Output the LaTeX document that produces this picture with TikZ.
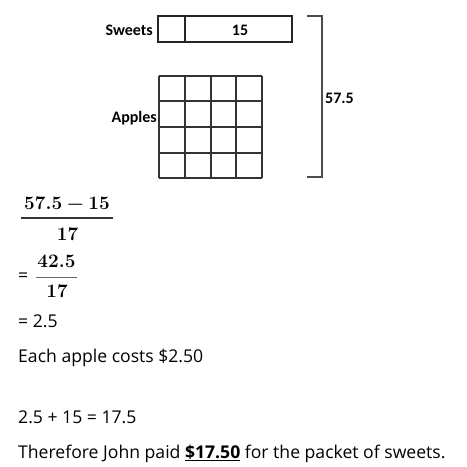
\documentclass[tikz,border=0pt]{standalone}
\usepackage{fontspec}
\setmainfont{Open Sans}
\newfontfamily\labfont{Carlito}
\newfontfamily\lmfont{Latin Modern Roman}
\begin{document}
\begin{tikzpicture}[x=1pt,y=-1pt,
  box/.style={draw=black!85,line width=1.3pt},
  gridline/.style={draw=black!80,line width=1.3pt},
  brace/.style={draw=black!70,line width=1.4pt},
  lab/.style={font=\labfont\bfseries\fontsize{16}{18}\selectfont,inner sep=0pt},
  txt/.style={font=\fontsize{17.6}{20}\selectfont,inner sep=0pt,anchor=base west},
  mth/.style={font=\lmfont\bfseries\fontsize{19}{22}\selectfont,inner sep=0pt,anchor=base},
  fbar/.style={draw=black!80,line width=1.1pt}]
\useasboundingbox (0,0) rectangle (467,467);
% Sweets bar
\draw[box] (158,16) rectangle (292,42);
\draw[box] (185,16) -- (185,42);
\node[lab,anchor=east] (sw) at (153,30) {Sweets};
\node[lab] (fifteen) at (240,30) {15};
% Apples grid
\foreach \x in {159,185,211,236,262} \draw[gridline] (\x,76) -- (\x,178);
\foreach \y in {76,101,127,153,178} \draw[gridline] (159,\y) -- (262,\y);
\node[lab,anchor=east] (ap) at (157,118) {Apples};
% bracket
\draw[brace] (307,16) -- (322,16) -- (322,177) -- (307,177);
\node[lab,anchor=west] (tot) at (325,98) {57.5};
% first fraction
\node[mth] (n1) at (67,209) {57.5\hspace{0.25em}−\hspace{0.25em}15};
\draw[fbar] (21,218) -- (113,218);
\node[mth] (d1) at (67.5,240) {17};
% second fraction
\node[txt] (eq1) at (18,281) {=};
\node[mth] (n2) at (56.5,267) {42.5};
\draw[draw=black!60,line width=0.8pt] (36,277) -- (77,277);
\node[mth] (d2) at (57,297) {17};
% lines of text
\node[txt] (t1) at (18,327) {= 2.5};
\node[txt] (t2) at (18,362) {Each apple costs \$2.50};
\node[txt] (t3) at (18,423) {2.5 + 15 = 17.5};
\node[txt] (t4) at (18,458) {Therefore John paid \underline{\textbf{\$17.50}} for the packet of sweets.};
\end{tikzpicture}
\end{document}
